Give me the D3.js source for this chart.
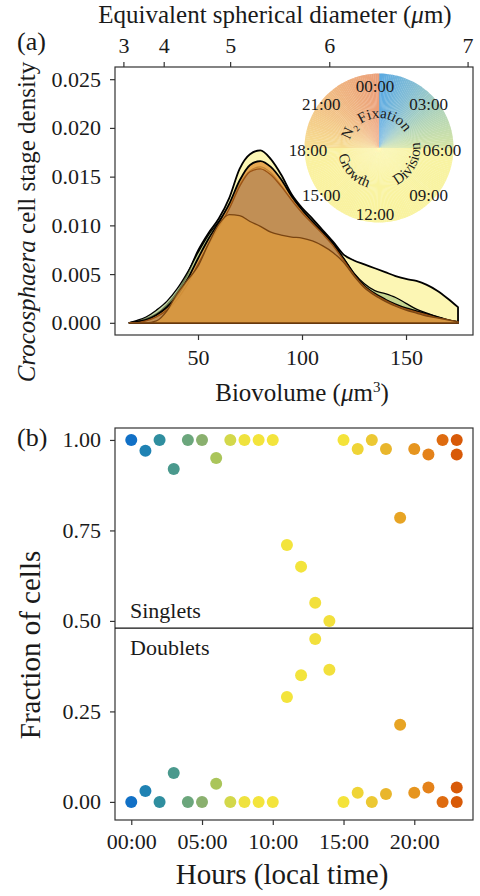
<!DOCTYPE html>
<html>
<head>
<meta charset="utf-8">
<script src="https://cdn.jsdelivr.net/npm/d3@7"></script>
<style>
  body { margin: 0; background: #fff; }
  svg text { font-family: "Liberation Serif", "DejaVu Serif", serif; fill: #1a1a1a; }
</style>
</head>
<body>
<svg id="chart" width="480" height="896"></svg>
<script>
// --- DATA: panel (a) densities ---
const biovolume = [17, 20, 25, 30, 35, 40, 45, 50, 55, 60, 65, 70, 75, 80, 85, 90, 95, 100, 105, 110, 115, 120, 125, 130, 135, 140, 145, 150, 155, 160, 165, 170, 175];
const densityGrowth = [0, 0.0001, 0.0004, 0.0009, 0.0018, 0.0031, 0.0050, 0.0074, 0.0092, 0.0107, 0.0128, 0.0158, 0.0173, 0.0177, 0.0168, 0.0152, 0.0132, 0.0118, 0.0107, 0.0095, 0.0083, 0.0070, 0.0064, 0.0060, 0.0056, 0.0052, 0.0048, 0.0045, 0.0043, 0.0039, 0.0033, 0.0025, 0.0016];
const densityDivision = [0, 0.0002, 0.0006, 0.0013, 0.0022, 0.0035, 0.0052, 0.0072, 0.0090, 0.0104, 0.0120, 0.0142, 0.0156, 0.0160, 0.0154, 0.0141, 0.0126, 0.0113, 0.0102, 0.0092, 0.0080, 0.0066, 0.0051, 0.0040, 0.0033, 0.0030, 0.0026, 0.0020, 0.0014, 0.0010, 0.0006, 0.0003, 0.0001];
const densityEvening = [0, 0.0001, 0.0003, 0.0008, 0.0016, 0.0028, 0.0045, 0.0066, 0.0086, 0.0103, 0.0122, 0.0146, 0.0162, 0.0166, 0.0160, 0.0147, 0.0130, 0.0116, 0.0104, 0.0093, 0.0081, 0.0066, 0.0050, 0.0038, 0.0030, 0.0024, 0.0019, 0.0015, 0.0012, 0.0009, 0.0006, 0.0003, 0.0001];
const densityNight = [0, 0, 0.0002, 0.0006, 0.0013, 0.0024, 0.0040, 0.0060, 0.0080, 0.0098, 0.0117, 0.0140, 0.0155, 0.0158, 0.0152, 0.0140, 0.0126, 0.0113, 0.0102, 0.0091, 0.0079, 0.0064, 0.0049, 0.0037, 0.0029, 0.0023, 0.0018, 0.0014, 0.0011, 0.0008, 0.0005, 0.0003, 0.0001];
const densityFixation = [0, 0, 0, 0.0002, 0.0012, 0.0030, 0.0044, 0.0058, 0.0081, 0.0101, 0.0111, 0.0110, 0.0104, 0.0099, 0.0093, 0.0090, 0.0088, 0.0087, 0.0084, 0.0079, 0.0072, 0.0062, 0.0048, 0.0036, 0.0028, 0.0022, 0.0017, 0.0013, 0.0010, 0.0007, 0.0005, 0.0003, 0.0001];

const densityTicks = [0, 0.005, 0.010, 0.015, 0.020, 0.025];
const biovolumeTicks = [50, 100, 150];
const diameterTicks = [3, 4, 5, 6, 7];

// --- DATA: panel (b) fractions by hour ---
const hours     = [0, 1, 2, 3, 4, 5, 6, 7, 8, 9, 10, 11, 12, 13, 14, 15, 16, 17, 18, 19, 20, 21, 22, 23, 23];
const singlets  = [1.00, 0.97, 1.00, 0.92, 1.00, 1.00, 0.95, 1.00, 1.00, 1.00, 1.00, 0.71, 0.65, 0.55, 0.50, 1.00, 0.975, 1.00, 0.975, 0.785, 0.975, 0.96, 1.00, 1.00, 0.96];
const doublets  = [0.00, 0.03, 0.00, 0.08, 0.00, 0.00, 0.05, 0.00, 0.00, 0.00, 0.00, 0.29, 0.35, 0.45, 0.365, 0.00, 0.025, 0.00, 0.022, 0.213, 0.025, 0.04, 0.00, 0.04, 0.00];
const fractionTicks = [0, 0.25, 0.5, 0.75, 1];
const hourTicks = [0, 5, 10, 15, 20];
const clockLabels = ["00:00", "03:00", "06:00", "09:00", "12:00", "15:00", "18:00", "21:00"];

// --- STYLES ---
const hourColors = ["#1170c6", "#1f82b3", "#2f8e9f", "#4a998d", "#6ba67c", "#8ab06e", "#aac55a", "#d3d84a", "#efe23e", "#f3e43c", "#f3e43c", "#f3e43c", "#f3e43c", "#f2e03c", "#f2e03c", "#f4e33a", "#efd436", "#ecc833", "#e9b62c", "#e7a424", "#e6951f", "#e4821a", "#de6b10", "#d85a08"];
const layers = [
    { values: densityGrowth,   fill: "#fcf6b4", opacity: 1,    stroke: "#000",    sw: 1.8 },
    { values: densityDivision, fill: "#a9c47e", opacity: 0.65, stroke: "#000",    sw: 1.3 },
    { values: densityEvening,  fill: "#e39a40", opacity: 0.85, stroke: "#000",    sw: 1.8 },
    { values: densityNight,    fill: "#b98a58", opacity: 0.8,  stroke: "#9a5214", sw: 1.4 },
    { values: densityFixation, fill: "#d9993f", opacity: 0.85, stroke: "#7a4512", sw: 1.3 }
];
const axisColor = "#333";

const svg = d3.select("#chart");

// --- PANEL (a) ---
const A = { left: 115, right: 473, top: 67, bottom: 335 };
const xA = d3.scaleLinear().domain([10.1, 182.2]).range([A.left, A.right]);
const yA = d3.scaleLinear().domain([-0.00125, 0.02625]).range([A.bottom, A.top]);

const area = d3.area()
    .x((d, i) => xA(biovolume[i]))
    .y0(yA(0))
    .y1(d => yA(d))
    .curve(d3.curveMonotoneX);

const densG = svg.append("g");
layers.forEach(l => {
    densG.append("path").attr("d", area(l.values))
        .attr("fill", l.fill).attr("fill-opacity", l.opacity)
        .attr("stroke", l.stroke).attr("stroke-width", l.sw).attr("stroke-linejoin", "round");
});

// inset clock
const clock = { cx: 379, cy: 148, r: 74.5 };
const clockColor = d3.scaleLinear()
    .domain([0, 2, 4, 6, 6.001, 12, 18, 18.001, 21, 24])
    .range(["#5aa9e2", "#86bfd4", "#b2d5b8", "#d6e5a4", "#f8f3a2", "#f9f3a0", "#faf1a0", "#f7de92", "#f1bd84", "#eb9e79"])
    .interpolate(d3.interpolateRgb);
const clockG = svg.append("g").attr("transform", `translate(${clock.cx},${clock.cy})`);
const wedge = d3.arc().innerRadius(0).outerRadius(clock.r);
d3.range(0, 24, 0.1).forEach(h => {
    clockG.append("path")
        .attr("d", wedge({ startAngle: h / 24 * 2 * Math.PI, endAngle: (h + 0.1) / 24 * 2 * Math.PI + 0.004 }))
        .attr("fill", clockColor(h + 0.05));
});
// hour labels sit a bit wider on the diagonals
clockLabels.forEach((lab, i) => {
    const a = i * 3 / 24 * 2 * Math.PI;
    const rx = 67 + 9 * Math.abs(Math.sin(2 * a));
    svg.append("text").attr("x", 375 + rx * Math.sin(a)).attr("y", 150 - 64 * Math.cos(a))
        .attr("text-anchor", "middle").attr("dominant-baseline", "central")
        .style("font-size", "17px").text(lab);
});

function arcPath(r, center, clockwise) {
    const rad = d => d * Math.PI / 180;
    const a0 = clockwise ? center - 90 : center + 90;
    const a1 = clockwise ? center + 90 : center - 90;
    const p = a => [r * Math.sin(rad(a)), -r * Math.cos(rad(a))];
    const [x0, y0] = p(a0), [x1, y1] = p(a1);
    return `M${x0},${y0} A${r},${r} 0 0 ${clockwise ? 1 : 0} ${x1},${y1}`;
}
const defs = svg.append("defs");
defs.append("path").attr("id", "arcFix").attr("d", arcPath(30, -8, true));
defs.append("path").attr("id", "arcGrowth").attr("d", arcPath(41, 228, false));
defs.append("path").attr("id", "arcDiv").attr("d", arcPath(41, 118, false));

[["arcFix", "N₂ Fixation"], ["arcGrowth", "Growth"], ["arcDiv", "Division"]].forEach(([id, t]) => {
    clockG.append("text").style("font-size", "15px")
        .append("textPath").attr("href", "#" + id).attr("startOffset", "50%").attr("text-anchor", "middle").text(t);
});

// box + axes
svg.append("rect").attr("x", A.left).attr("y", A.top).attr("width", A.right - A.left).attr("height", A.bottom - A.top)
    .attr("fill", "none").attr("stroke", axisColor).attr("stroke-width", 1.2);

function styleAxis(g) {
    g.select(".domain").remove();
    g.selectAll(".tick line").attr("stroke", axisColor).attr("stroke-width", 1.2);
    g.selectAll(".tick text").style("font-size", "22px").attr("fill", "#1a1a1a");
}
svg.append("g").attr("transform", `translate(${A.left},0)`)
    .call(d3.axisLeft(yA).tickValues(densityTicks).tickFormat(d3.format(".3f")).tickSize(5).tickPadding(9))
    .call(styleAxis);
svg.append("g").attr("transform", `translate(0,${A.bottom})`)
    .call(d3.axisBottom(xA).tickValues(biovolumeTicks).tickSize(5).tickPadding(9))
    .call(styleAxis);
svg.append("g").attr("transform", `translate(0,${A.top})`)
    .call(d3.axisTop(xA).tickValues(diameterTicks.map(d => Math.PI * d ** 3 / 6))
        .tickFormat((d, i) => diameterTicks[i]).tickSize(5).tickPadding(9))
    .call(styleAxis);

// titles (a)
svg.append("text").attr("x", 17).attr("y", 50).style("font-size", "26px").text("(a)");
const topTitle = svg.append("text").attr("x", 275).attr("y", 23).attr("text-anchor", "middle").style("font-size", "25px");
topTitle.append("tspan").text("Equivalent spherical diameter (");
topTitle.append("tspan").style("font-style", "italic").text("μ");
topTitle.append("tspan").text("m)");

const bvTitle = svg.append("text").attr("x", 302).attr("y", 401).attr("text-anchor", "middle").style("font-size", "25px");
bvTitle.append("tspan").text("Biovolume (");
bvTitle.append("tspan").style("font-style", "italic").text("μ");
bvTitle.append("tspan").text("m");
bvTitle.append("tspan").attr("dy", -9).style("font-size", "15px").text("3");
bvTitle.append("tspan").attr("dy", 9).text(")");

const yTitleA = svg.append("text").attr("transform", "translate(35,222) rotate(-90)").attr("text-anchor", "middle").style("font-size", "25px");
yTitleA.append("tspan").style("font-style", "italic").text("Crocosphaera");
yTitleA.append("tspan").text(" cell stage density");

// --- PANEL (b) ---
const B = { left: 115, right: 473, top: 428, bottom: 820 };
const xB = d3.scaleLinear().domain([-1.15, 24.15]).range([B.left, B.right]);
const yB = d3.scaleLinear().domain([-0.05, 1.033]).range([B.bottom, B.top]);

svg.append("rect").attr("x", B.left).attr("y", B.top).attr("width", B.right - B.left).attr("height", B.bottom - B.top)
    .attr("fill", "none").attr("stroke", axisColor).attr("stroke-width", 1.2);

svg.append("line").attr("x1", B.left).attr("x2", B.right).attr("y1", yB(0.48)).attr("y2", yB(0.48))
    .attr("stroke", "#111").attr("stroke-width", 1.3);
svg.append("text").attr("x", 130).attr("y", yB(0.48) - 10).style("font-size", "22px").text("Singlets");
svg.append("text").attr("x", 130).attr("y", yB(0.48) + 27).style("font-size", "22px").text("Doublets");

const pts = svg.append("g");
pts.selectAll(".single").data(hours).join("circle").attr("class", "single")
    .attr("cx", d => xB(d)).attr("cy", (d, i) => yB(singlets[i])).attr("r", 6)
    .attr("fill", d => hourColors[d]);
pts.selectAll(".double").data(hours).join("circle").attr("class", "double")
    .attr("cx", d => xB(d)).attr("cy", (d, i) => yB(doublets[i])).attr("r", 6)
    .attr("fill", d => hourColors[d]);

svg.append("g").attr("transform", `translate(${B.left},0)`)
    .call(d3.axisLeft(yB).tickValues(fractionTicks).tickFormat(d3.format(".2f")).tickSize(5).tickPadding(9))
    .call(styleAxis);
svg.append("g").attr("transform", `translate(0,${B.bottom})`)
    .call(d3.axisBottom(xB).tickValues(hourTicks).tickFormat(d => String(d).padStart(2, "0") + ":00").tickSize(5).tickPadding(8))
    .call(styleAxis);

svg.append("text").attr("x", 17).attr("y", 446).style("font-size", "26px").text("(b)");
svg.append("text").attr("x", 282).attr("y", 884).attr("text-anchor", "middle").style("font-size", "29px").text("Hours (local time)");
svg.append("text").attr("transform", "translate(40,645) rotate(-90)").attr("text-anchor", "middle").style("font-size", "29px").text("Fraction of cells");
</script>
</body>
</html>
